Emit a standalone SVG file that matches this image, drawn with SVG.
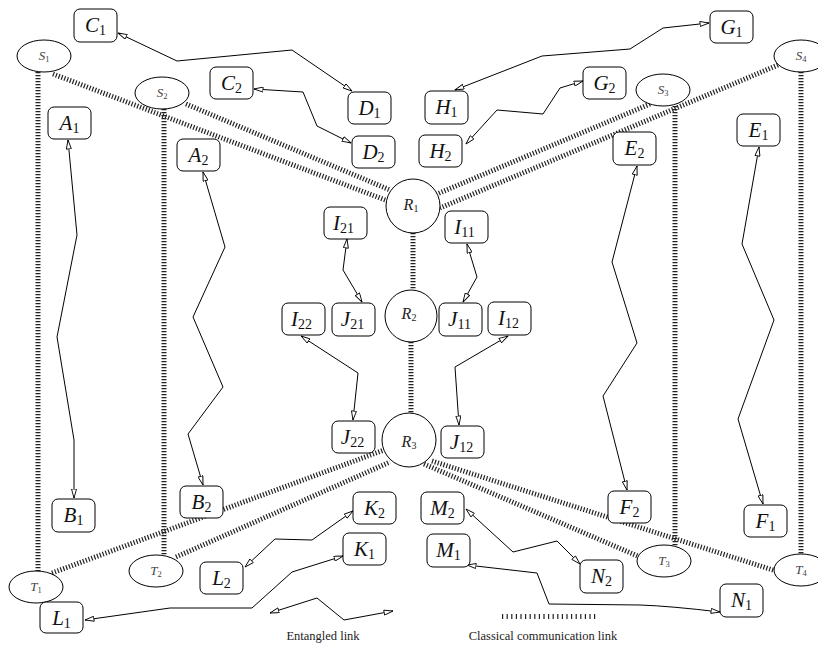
<svg xmlns="http://www.w3.org/2000/svg" width="818" height="648" viewBox="0 0 818 648">
<defs>
<marker id="ah" viewBox="0 0 10 6" refX="9.5" refY="3" markerWidth="10" markerHeight="6" markerUnits="userSpaceOnUse" orient="auto-start-reverse">
<path d="M0.5,0.5 L9.5,3 L0.5,5.5 z" fill="#fff" stroke="#000" stroke-width="0.9"/>
</marker>
</defs>
<style>
.box{fill:#fff;stroke:#000;stroke-width:1}
.el{fill:#fff;stroke:#000;stroke-width:1}
.lbl{font-family:"Liberation Serif",serif;font-style:italic;font-size:21px;fill:#111;text-anchor:middle}
.sub{font-style:normal;font-size:14px}
.slbl{font-family:"Liberation Serif",serif;font-style:italic;font-size:13px;fill:#444;text-anchor:middle}
.ssub{font-style:normal;font-size:8.5px}
.rlbl{font-family:"Liberation Serif",serif;font-style:italic;font-size:16px;fill:#222;text-anchor:middle}
.rsub{font-style:normal;font-size:10px}
.ent{fill:none;stroke:#000;stroke-width:1;marker-start:url(#ah);marker-end:url(#ah)}
.cl{fill:none;stroke:#222;stroke-width:5;stroke-dasharray:1.2 1.8}
.leg{font-family:"Liberation Serif",serif;font-size:12.5px;fill:#222;text-anchor:middle}
</style>
<g id="connectors">
<line class="cl" x1="38" y1="72" x2="38" y2="571"/>
<line class="cl" x1="164" y1="109" x2="164" y2="555"/>
<line class="cl" x1="675" y1="106" x2="675" y2="548"/>
<line class="cl" x1="801" y1="72" x2="801" y2="554"/>
<line class="cl" x1="53" y1="74" x2="388" y2="201"/>
<line class="cl" x1="186" y1="104" x2="390" y2="190"/>
<line class="cl" x1="650" y1="104" x2="437" y2="194"/>
<line class="cl" x1="778" y1="65" x2="440" y2="208"/>
<line class="cl" x1="413" y1="233" x2="413" y2="290"/>
<line class="cl" x1="411" y1="342" x2="411" y2="413"/>
<line class="cl" x1="52" y1="573" x2="384" y2="450"/>
<line class="cl" x1="176" y1="557" x2="390" y2="462"/>
<line class="cl" x1="424" y1="464" x2="640" y2="557"/>
<line class="cl" x1="432" y1="461" x2="776" y2="571"/>
<polyline class="ent" points="118,33 177,61 292,50 352,91"/>
<polyline class="ent" points="254,89 303,92 317,126 351,143"/>
<polyline class="ent" points="455,90 542,56 630,49 663,28 709,23"/>
<polyline class="ent" points="583,81 560,88 543,114 497,110 466,144"/>
<polyline class="ent" points="68,140 77,235 57,337 74,440 74,498"/>
<polyline class="ent" points="203,172 225,247 193,317 223,387 188,434 203,485"/>
<polyline class="ent" points="637,166 612,262 637,343 603,396 627,490"/>
<polyline class="ent" points="759,147 742,244 774,320 738,419 763,504"/>
<polyline class="ent" points="347,239 343,270 362,302"/>
<polyline class="ent" points="467,244 477,277 463,302"/>
<polyline class="ent" points="301,336 358,373 353,420"/>
<polyline class="ent" points="508,336 455,367 459,425"/>
<polyline class="ent" points="353,511 312,540 275,539 245,567"/>
<polyline class="ent" points="343,556 292,572 252,608 170,608 85,620"/>
<polyline class="ent" points="466,509 513,552 557,541 580,564"/>
<path class="ent" d="M467,565 L537,573 L549,604 L640,605 Q670,606 720,612"/>
</g>
<g id="S1"><ellipse class="el" cx="44" cy="56" rx="27" ry="16"/><text class="slbl" x="44" y="60">S<tspan class="ssub" dy="2">1</tspan></text></g>
<g id="S2"><ellipse class="el" cx="162" cy="93" rx="27" ry="16"/><text class="slbl" x="162" y="97">S<tspan class="ssub" dy="2">2</tspan></text></g>
<g id="S3"><ellipse class="el" cx="663" cy="90" rx="27" ry="16"/><text class="slbl" x="663" y="94">S<tspan class="ssub" dy="2">3</tspan></text></g>
<g id="S4"><ellipse class="el" cx="801" cy="56" rx="27" ry="16"/><text class="slbl" x="801" y="60">S<tspan class="ssub" dy="2">4</tspan></text></g>
<g id="T1"><ellipse class="el" cx="36" cy="587" rx="27" ry="16"/><text class="slbl" x="36" y="591">T<tspan class="ssub" dy="2">1</tspan></text></g>
<g id="T2"><ellipse class="el" cx="156" cy="571" rx="27" ry="16"/><text class="slbl" x="156" y="575">T<tspan class="ssub" dy="2">2</tspan></text></g>
<g id="T3"><ellipse class="el" cx="664" cy="561" rx="27" ry="16"/><text class="slbl" x="664" y="565">T<tspan class="ssub" dy="2">3</tspan></text></g>
<g id="T4"><ellipse class="el" cx="801" cy="570" rx="27" ry="16"/><text class="slbl" x="801" y="574">T<tspan class="ssub" dy="2">4</tspan></text></g>
<g id="R1"><circle class="el" cx="413" cy="206" r="27"/><text class="rlbl" x="411" y="210">R<tspan class="rsub" dy="2">1</tspan></text></g>
<g id="R2"><circle class="el" cx="411" cy="316" r="26"/><text class="rlbl" x="409" y="319">R<tspan class="rsub" dy="2">2</tspan></text></g>
<g id="R3"><circle class="el" cx="409" cy="440" r="27"/><text class="rlbl" x="409" y="447">R<tspan class="rsub" dy="2">3</tspan></text></g>
<g id="C1"><rect class="box" x="74" y="9" width="43" height="33" rx="6"/><text class="lbl" x="95.5" y="32">C<tspan class="sub" dy="3">1</tspan></text></g>
<g id="C2"><rect class="box" x="210" y="67" width="43" height="32" rx="6"/><text class="lbl" x="231.5" y="90">C<tspan class="sub" dy="3">2</tspan></text></g>
<g id="D1"><rect class="box" x="348" y="92" width="43" height="32" rx="6"/><text class="lbl" x="369.5" y="115">D<tspan class="sub" dy="3">1</tspan></text></g>
<g id="D2"><rect class="box" x="352" y="136" width="43" height="32" rx="6"/><text class="lbl" x="373.5" y="159">D<tspan class="sub" dy="3">2</tspan></text></g>
<g id="H1"><rect class="box" x="425" y="91" width="43" height="33" rx="6"/><text class="lbl" x="446.5" y="114">H<tspan class="sub" dy="3">1</tspan></text></g>
<g id="H2"><rect class="box" x="419" y="135" width="43" height="32" rx="6"/><text class="lbl" x="440.5" y="158">H<tspan class="sub" dy="3">2</tspan></text></g>
<g id="G1"><rect class="box" x="710" y="11" width="43" height="32" rx="6"/><text class="lbl" x="731.5" y="34">G<tspan class="sub" dy="3">1</tspan></text></g>
<g id="G2"><rect class="box" x="583" y="67" width="43" height="32" rx="6"/><text class="lbl" x="604.5" y="90">G<tspan class="sub" dy="3">2</tspan></text></g>
<g id="A1"><rect class="box" x="48" y="107" width="43" height="32" rx="6"/><text class="lbl" x="69.5" y="130">A<tspan class="sub" dy="3">1</tspan></text></g>
<g id="A2"><rect class="box" x="177" y="139" width="43" height="32" rx="6"/><text class="lbl" x="198.5" y="162">A<tspan class="sub" dy="3">2</tspan></text></g>
<g id="E1"><rect class="box" x="737" y="114" width="43" height="32" rx="6"/><text class="lbl" x="758.5" y="137">E<tspan class="sub" dy="3">1</tspan></text></g>
<g id="E2"><rect class="box" x="613" y="132" width="43" height="33" rx="6"/><text class="lbl" x="634.5" y="155">E<tspan class="sub" dy="3">2</tspan></text></g>
<g id="I21"><rect class="box" x="324" y="207" width="43" height="32" rx="6"/><text class="lbl" x="343.5" y="230">I<tspan class="sub" dy="3">21</tspan></text></g>
<g id="I11"><rect class="box" x="445" y="211" width="43" height="32" rx="6"/><text class="lbl" x="464.5" y="234">I<tspan class="sub" dy="3">11</tspan></text></g>
<g id="I22"><rect class="box" x="282" y="303" width="43" height="32" rx="6"/><text class="lbl" x="301.5" y="326">I<tspan class="sub" dy="3">22</tspan></text></g>
<g id="J21"><rect class="box" x="332" y="303" width="43" height="33" rx="6"/><text class="lbl" x="352.5" y="326">J<tspan class="sub" dy="3">21</tspan></text></g>
<g id="J11"><rect class="box" x="439" y="303" width="43" height="33" rx="6"/><text class="lbl" x="459.5" y="326">J<tspan class="sub" dy="3">11</tspan></text></g>
<g id="I12"><rect class="box" x="488" y="302" width="43" height="33" rx="6"/><text class="lbl" x="508.5" y="325">I<tspan class="sub" dy="3">12</tspan></text></g>
<g id="J22"><rect class="box" x="332" y="421" width="43" height="32" rx="6"/><text class="lbl" x="352.5" y="444">J<tspan class="sub" dy="3">22</tspan></text></g>
<g id="J12"><rect class="box" x="441" y="426" width="43" height="32" rx="6"/><text class="lbl" x="461.5" y="449">J<tspan class="sub" dy="3">12</tspan></text></g>
<g id="B1"><rect class="box" x="52" y="499" width="43" height="33" rx="6"/><text class="lbl" x="73.5" y="522">B<tspan class="sub" dy="3">1</tspan></text></g>
<g id="B2"><rect class="box" x="180" y="486" width="43" height="32" rx="6"/><text class="lbl" x="201.5" y="509">B<tspan class="sub" dy="3">2</tspan></text></g>
<g id="F2"><rect class="box" x="608" y="491" width="43" height="32" rx="6"/><text class="lbl" x="629.5" y="514">F<tspan class="sub" dy="3">2</tspan></text></g>
<g id="F1"><rect class="box" x="744" y="505" width="43" height="32" rx="6"/><text class="lbl" x="765.5" y="528">F<tspan class="sub" dy="3">1</tspan></text></g>
<g id="K2"><rect class="box" x="353" y="492" width="43" height="32" rx="6"/><text class="lbl" x="374.5" y="515">K<tspan class="sub" dy="3">2</tspan></text></g>
<g id="K1"><rect class="box" x="343" y="533" width="43" height="32" rx="6"/><text class="lbl" x="364.5" y="556">K<tspan class="sub" dy="3">1</tspan></text></g>
<g id="M2"><rect class="box" x="421" y="492" width="43" height="32" rx="6"/><text class="lbl" x="442.5" y="515">M<tspan class="sub" dy="3">2</tspan></text></g>
<g id="M1"><rect class="box" x="427" y="534" width="43" height="33" rx="6"/><text class="lbl" x="448.5" y="557">M<tspan class="sub" dy="3">1</tspan></text></g>
<g id="L2"><rect class="box" x="200" y="562" width="43" height="32" rx="6"/><text class="lbl" x="221.5" y="585">L<tspan class="sub" dy="3">2</tspan></text></g>
<g id="N2"><rect class="box" x="580" y="560" width="43" height="33" rx="6"/><text class="lbl" x="601.5" y="583">N<tspan class="sub" dy="3">2</tspan></text></g>
<g id="L1"><rect class="box" x="40" y="602" width="43" height="31" rx="6"/><text class="lbl" x="61.5" y="625">L<tspan class="sub" dy="3">1</tspan></text></g>
<g id="N1"><rect class="box" x="720" y="584" width="43" height="33" rx="6"/><text class="lbl" x="741.5" y="607">N<tspan class="sub" dy="3">1</tspan></text></g>
<g id="legend">
<polyline class="ent" points="270,613 317,598 344,620 393,611"/>
<text class="leg" x="323" y="640">Entangled link</text>
<line x1="502" y1="616.5" x2="598" y2="616.5" stroke="#222" stroke-width="5" stroke-dasharray="1.2 3.4"/>
<text class="leg" x="543" y="640">Classical communication link</text>
</g>
</svg>
